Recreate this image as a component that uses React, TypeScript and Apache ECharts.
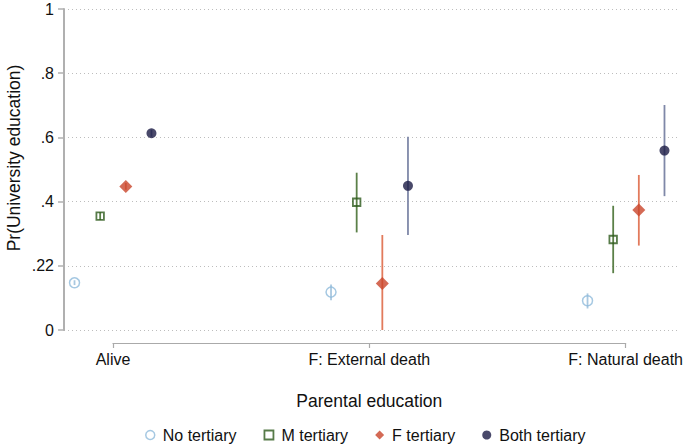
import React, { useEffect, useRef } from "react";
import * as echarts from "echarts";

const categories = ["Alive", "F: External death", "F: Natural death"];
const seriesNames = ["No tertiary", "M tertiary", "F tertiary", "Both tertiary"];
const yTickLabels = ["0", ".22", ".4", ".6", ".8", "1"];

const noTertiary = [0.147, 0.118, 0.091];
const mTertiary = [0.355, 0.398, 0.282];
const fTertiary = [0.447, 0.145, 0.374];
const bothTertiary = [0.613, 0.449, 0.559];

const noLow = [0.14, 0.093, 0.067];
const noHigh = [0.155, 0.142, 0.114];
const mLow = [0.343, 0.304, 0.177];
const mHigh = [0.367, 0.49, 0.387];
const fLow = [0.437, 0.0, 0.263];
const fHigh = [0.458, 0.296, 0.483];
const bothLow = [0.602, 0.296, 0.417];
const bothHigh = [0.624, 0.602, 0.701];

const FONT = "'Liberation Sans', Arial, sans-serif";

export default function App() {
  const ref = useRef<HTMLDivElement>(null);
  useEffect(() => {
    if (!ref.current) return;
    const chart = echarts.init(ref.current, undefined, { renderer: "svg" });

    const offsets = [-0.15, -0.05, 0.05, 0.15];
    const values = [noTertiary, mTertiary, fTertiary, bothTertiary];
    const lows = [noLow, mLow, fLow, bothLow];
    const highs = [noHigh, mHigh, fHigh, bothHigh];
    const markerStyles: any[] = [
      { symbol: "circle", size: 10, itemStyle: { color: "rgba(0,0,0,0)", borderColor: "#8fbadb", borderWidth: 1.5 } },
      { symbol: "rect", size: 7.5, itemStyle: { color: "rgba(0,0,0,0)", borderColor: "#2d5a1b", borderWidth: 1.8 } },
      { symbol: "diamond", size: 13, itemStyle: { color: "#c9452a" } },
      { symbol: "circle", size: 10, itemStyle: { color: "#1b1c45" } },
    ];
    const barColors = ["#a9c8e0", "#5b8048", "#e27a5c", "#7f88a8"];

    const series: any[] = [];
    seriesNames.forEach((name, s) => {
      series.push({
        type: "custom",
        name: name + " CI",
        xAxisIndex: 0,
        yAxisIndex: 0,
        z: 1,
        silent: true,
        data: categories.map((_, i) => [i + offsets[s], lows[s][i], highs[s][i]]),
        renderItem: (params: any, api: any) => {
          const p1 = api.coord([api.value(0), api.value(1)]);
          const p2 = api.coord([api.value(0), api.value(2)]);
          return {
            type: "line",
            shape: { x1: p1[0], y1: p1[1], x2: p2[0], y2: p2[1] },
            style: { stroke: barColors[s], lineWidth: 1.8 },
          };
        },
      });
    });
    seriesNames.forEach((name, s) => {
      series.push({
        type: "scatter",
        name,
        xAxisIndex: 0,
        yAxisIndex: 0,
        z: 3,
        symbol: markerStyles[s].symbol,
        symbolSize: markerStyles[s].size,
        itemStyle: markerStyles[s].itemStyle,
        data: categories.map((_, i) => [i + offsets[s], values[s][i]]),
      });
    });

    chart.setOption({
      animation: false,
      backgroundColor: "#ffffff",
      textStyle: { fontFamily: FONT },
      grid: [
        { left: 64, top: 9, width: 616, height: 321 },
        { left: 113, top: 342, width: 513, height: 1 },
      ],
      xAxis: [
        {
          type: "value",
          gridIndex: 0,
          min: -0.191,
          max: 2.2105,
          show: false,
          splitLine: { show: false },
        },
        {
          type: "value",
          gridIndex: 1,
          min: 0,
          max: 2,
          interval: 1,
          position: "bottom",
          splitLine: { show: false },
          axisLine: { show: true, onZero: false, lineStyle: { color: "#aaaaaa", width: 1.2 } },
          axisTick: { show: true, length: 5, lineStyle: { color: "#aaaaaa", width: 1.2 } },
          axisLabel: {
            margin: 8,
            fontSize: 16,
            color: "#111",
            fontFamily: FONT,
            formatter: (v: number) => categories[Math.round(v)] ?? "",
          },
          name: "Parental education",
          nameLocation: "middle",
          nameGap: 49,
          nameTextStyle: { fontSize: 17.5, color: "#111", fontFamily: FONT },
        },
      ],
      yAxis: [
        {
          type: "value",
          gridIndex: 0,
          min: 0,
          max: 1,
          interval: 0.2,
          axisLine: { show: true, onZero: false, lineStyle: { color: "#b0b0b0", width: 2 } },
          axisTick: { show: true, length: 6, lineStyle: { color: "#b0b0b0", width: 1.5 } },
          axisLabel: {
            margin: 10,
            fontSize: 16,
            color: "#111",
            fontFamily: FONT,
            formatter: (v: number) => yTickLabels[Math.round(v / 0.2)] ?? "",
          },
          splitLine: { show: true, lineStyle: { color: "#bdbdbd", type: [1, 3], width: 1 } },
        },
        {
          type: "value",
          gridIndex: 1,
          show: false,
          splitLine: { show: false },
        },
      ],
      legend: {
        left: 140,
        top: 422,
        itemGap: 27,
        itemWidth: 9,
        itemHeight: 9,
        textStyle: { fontSize: 16, color: "#111", fontFamily: FONT, padding: [0, 0, 0, 3] },
        data: [
          { name: seriesNames[0], icon: "circle", itemStyle: { color: "rgba(0,0,0,0)", borderColor: "#8fbadb", borderWidth: 1.5 } },
          { name: seriesNames[1], icon: "rect", itemStyle: { color: "rgba(0,0,0,0)", borderColor: "#2d5a1b", borderWidth: 1.8 } },
          { name: seriesNames[2], icon: "diamond", itemStyle: { color: "#c9452a" } },
          { name: seriesNames[3], icon: "circle", itemStyle: { color: "#1b1c45" } },
        ],
      },
      graphic: [
        {
          type: "text",
          x: 14,
          y: 158,
          rotation: Math.PI / 2,
          style: {
            text: "Pr(University education)",
            fontSize: 17.5,
            fontFamily: FONT,
            fill: "#111",
            textAlign: "center",
            textVerticalAlign: "middle",
          },
        },
      ],
      series,
    });
    return () => chart.dispose();
  }, []);
  return <div ref={ref} style={{ position: "fixed", left: 0, top: 0, width: 686, height: 444 }} />;
}
